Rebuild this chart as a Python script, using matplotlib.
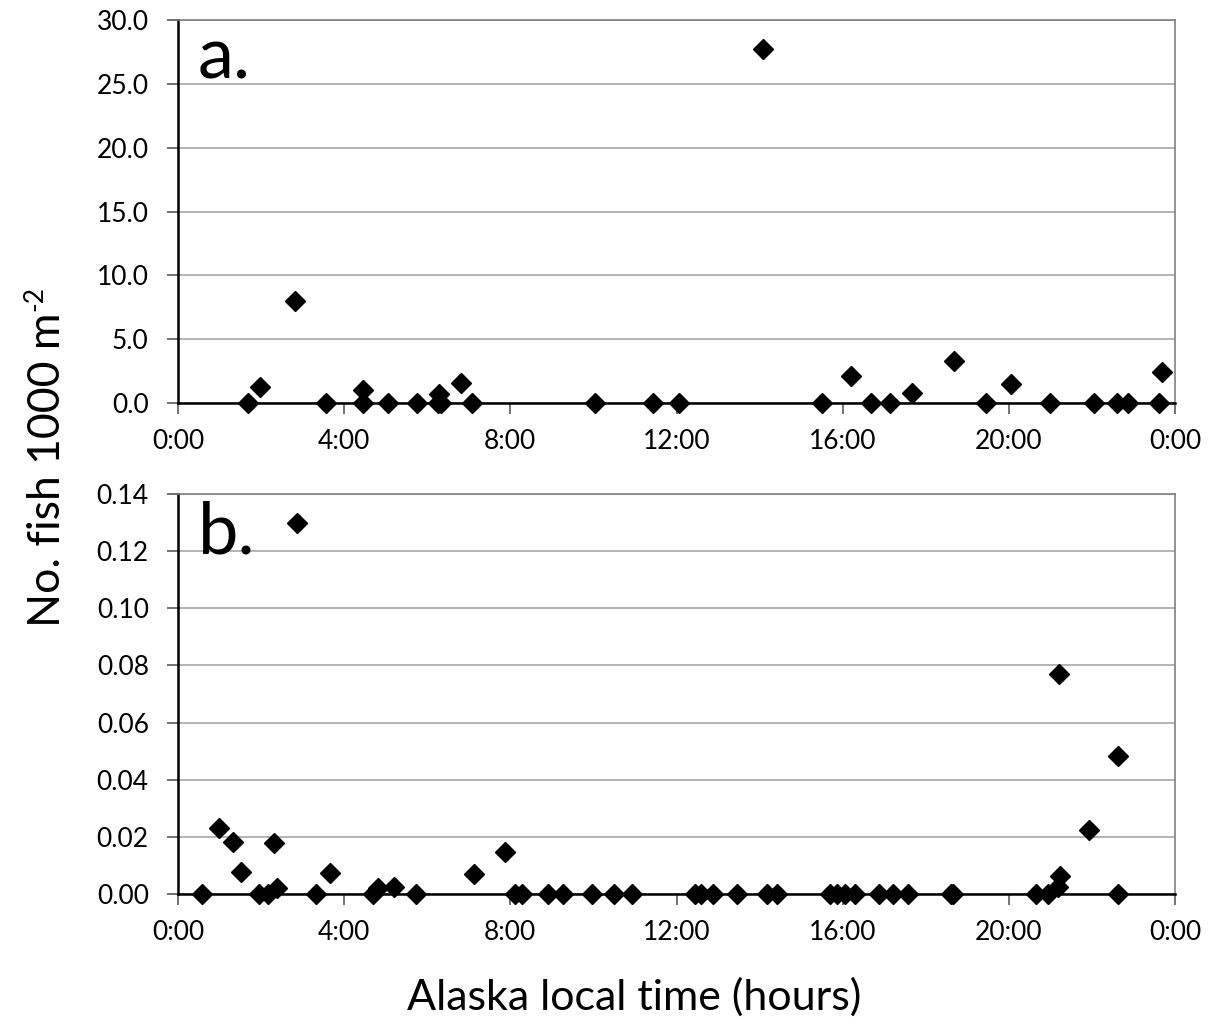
import numpy as np
import matplotlib
matplotlib.use("Agg")
import matplotlib.pyplot as plt

plt.rcParams["font.family"] = ["Lato", "DejaVu Sans"]

# Panel a: catch density (no. fish 1000 m^-2) vs hour of day
hours_a = [1.69, 1.97, 2.82, 3.56, 4.46, 4.46, 5.05, 5.76, 6.25, 6.32, 6.29,
           6.81, 7.08, 10.04, 11.44, 12.07, 14.08, 15.51, 16.20, 16.68, 17.14,
           17.66, 18.68, 19.45, 20.06, 20.99, 22.05, 22.59, 22.86, 23.61, 23.69]
fish_a = [0.0, 1.28, 8.0, 0.0, 1.02, 0.0, 0.0, 0.0, 0.0, 0.0, 0.70,
          1.54, 0.0, 0.0, 0.0, 0.0, 27.7, 0.0, 2.11, 0.0, 0.0,
          0.81, 3.31, 0.0, 1.49, 0.0, 0.0, 0.0, 0.0, 0.0, 2.40]

# Panel b
hours_b = [0.59, 0.99, 1.33, 1.52, 1.96, 2.17, 2.32, 2.39, 2.86, 3.31, 3.66,
           4.70, 4.82, 5.20, 5.74, 7.13, 7.87, 8.11, 8.27, 8.90, 9.26,
           9.96, 10.50, 10.92, 12.44, 12.60, 12.88, 13.46, 14.18, 14.41, 15.69,
           15.85, 16.05, 16.29, 16.88, 17.22, 17.56, 18.60, 18.66, 20.65, 20.95,
           21.20, 21.23, 21.19, 21.93, 22.63, 22.63]
fish_b = [0.0, 0.023, 0.0181, 0.0078, 0.0, 0.0, 0.0177, 0.002, 0.130, 0.0, 0.0072,
          0.0, 0.002, 0.0023, 0.0, 0.0069, 0.0146, 0.0, 0.0, 0.0, 0.0,
          0.0, 0.0, 0.0, 0.0, 0.0, 0.0, 0.0, 0.0, 0.0, 0.0,
          0.0, 0.0, 0.0, 0.0, 0.0, 0.0, 0.0, 0.0, 0.0, 0.0,
          0.0769, 0.0064, 0.0026, 0.0224, 0.0483, 0.0]

xticks = [0, 4, 8, 12, 16, 20, 24]
xtick_labels = ["0:00", "4:00", "8:00", "12:00", "16:00", "20:00", "0:00"]

fig = plt.figure(figsize=(12.14, 10.25), dpi=100)
ax_a = fig.add_axes([0.1466, 0.6068, 0.8214, 0.3737])
ax_b = fig.add_axes([0.1466, 0.1278, 0.8214, 0.3902])


def style_axis(ax, yticks, fmt, label):
    ax.set_xlim(0, 24)
    ax.set_ylim(yticks[0], yticks[-1])
    ax.set_yticks(yticks)
    ax.set_yticklabels([fmt.format(v) for v in yticks])
    ax.set_xticks(xticks)
    ax.set_xticklabels(xtick_labels)
    ax.yaxis.grid(True, color="#a6a6a6", linewidth=1.2)
    ax.set_axisbelow(True)
    for s in ["top", "right"]:
        ax.spines[s].set_color("#808080")
        ax.spines[s].set_linewidth(1.2)
    for s in ["left", "bottom"]:
        ax.spines[s].set_color("black")
        ax.spines[s].set_linewidth(1.8)
    ax.tick_params(axis="both", direction="out", length=8, width=1.2,
                   labelsize=19, color="#595959", labelcolor="black")
    ax.tick_params(axis="y", pad=13)
    ax.tick_params(axis="x", pad=11)
    ax.text(0.02, 0.985, label, transform=ax.transAxes, fontsize=52,
            va="top", ha="left")


ax_a.plot(hours_a, fish_a, linestyle="none", marker="D", markersize=10,
          color="black", clip_on=False, zorder=3)
ax_b.plot(hours_b, fish_b, linestyle="none", marker="D", markersize=10,
          color="black", clip_on=False, zorder=3)

style_axis(ax_a, [0, 5, 10, 15, 20, 25, 30], "{:.1f}", "a.")
style_axis(ax_b, [0, 0.02, 0.04, 0.06, 0.08, 0.10, 0.12, 0.14], "{:.2f}", "b.")

# y label with a small raised "-2"
ylab = fig.text(60 / 1214, 1 - 470 / 1025, "No. fish 1000 m", rotation=90,
                rotation_mode="anchor", fontsize=32, ha="center", va="baseline")
fig.canvas.draw()
bb = ylab.get_window_extent()
fig.text(42 / 1214, (bb.y1 + 2) / fig.bbox.height, "-2", rotation=90,
         rotation_mode="anchor", fontsize=19, ha="left", va="baseline")

fig.text(634 / 1214, 1 - 1010 / 1025, "Alaska local time (hours)", fontsize=31,
         ha="center", va="baseline")

fig.savefig("out.png", dpi=100)
